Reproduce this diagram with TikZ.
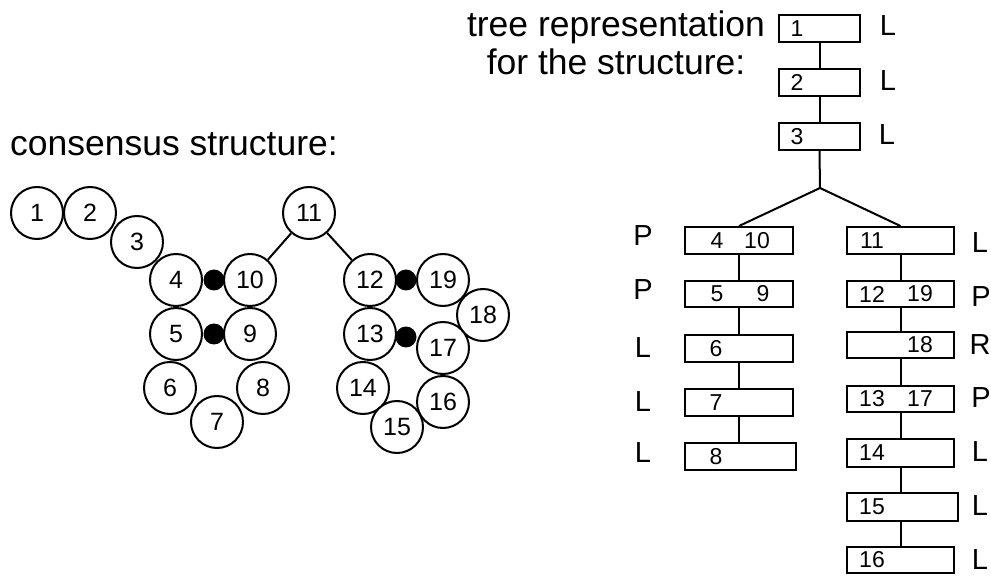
\documentclass[tikz,border=0pt]{standalone}
\usepackage{fontspec}
\setmainfont{Liberation Sans}
\begin{document}
\begin{tikzpicture}[x=1pt,y=-1pt,
  base/.style={line width=2pt},
  nt/.style={circle,draw,base,fill=white,minimum size=52pt,inner sep=0pt,font=\fontsize{25}{25}\selectfont},
  dot/.style={circle,fill=black,minimum size=21pt,inner sep=0pt},
  box/.style={rectangle,draw,base,inner sep=0pt},
  bt/.style={inner sep=0pt,font=\fontsize{23}{23}\selectfont},
  lab/.style={inner sep=0pt,font=\fontsize{29}{29}\selectfont},
  title/.style={inner sep=0pt,font=\fontsize{35.5}{38}\selectfont},
  link/.style={base}]
\useasboundingbox (0,0) rectangle (991,577);
% titles
\node[title,anchor=base west] (tc) at (10,156) {consensus structure:};
\node[title,anchor=base] (tt1) at (616,37) {tree representation};
\node[title,anchor=base] (tt2) at (616,75) {for the structure:};
% base pair dots
\node[dot] (d1) at (214,280) {};
\node[dot] (d2) at (214,334) {};
\node[dot] (d3) at (406,280) {};
\node[dot] (d4) at (406,337) {};
% nucleotides
\node[nt] (n1) at (37,213) {1};
\node[nt] (n2) at (90,213) {2};
\node[nt] (n3) at (137,242) {3};
\node[nt] (n4) at (176,280) {4};
\node[nt] (n10) at (250,280) {10};
\node[nt] (n5) at (176,334) {5};
\node[nt] (n9) at (250,334) {9};
\node[nt] (n6) at (170,388) {6};
\node[nt] (n8) at (263,388) {8};
\node[nt] (n7) at (217,422) {7};
\node[nt] (n11) at (309,213) {11};
\node[nt] (n12) at (370,280) {12};
\node[nt] (n19) at (443,280) {19};
\node[nt] (n18) at (483,315) {18};
\node[nt] (n13) at (370,334) {13};
\node[nt] (n17) at (443,348) {17};
\node[nt] (n14) at (363,388) {14};
\node[nt] (n16) at (443,402) {16};
\node[nt] (n15) at (397,427) {15};
\draw[link] (n11) -- (n10);
\draw[link] (n11) -- (n12);
% tree: top column
\node[box,minimum width=81pt,minimum height=27pt] (b1) at (819.5,28.5) {};
\node[box,minimum width=81pt,minimum height=27pt] (b2) at (819.5,82.5) {};
\node[box,minimum width=81pt,minimum height=27pt] (b3) at (819.5,136.5) {};
\coordinate (j) at (820,188);
% left column
\node[box,minimum width=108pt,minimum height=27pt] (b410) at (739,240.5) {};
\node[box,minimum width=108pt,minimum height=26pt] (b59) at (739,294) {};
\node[box,minimum width=108pt,minimum height=27pt] (b6) at (739,348.5) {};
\node[box,minimum width=108pt,minimum height=27pt] (b7) at (739,402.5) {};
\node[box,minimum width=111pt,minimum height=27pt] (b8) at (740.5,456.5) {};
% right column
\node[box,minimum width=107pt,minimum height=27pt] (b11) at (900.5,240.5) {};
\node[box,minimum width=107pt,minimum height=26pt] (b1219) at (900.5,294) {};
\node[box,minimum width=107pt,minimum height=26pt] (b18) at (900.5,345) {};
\node[box,minimum width=107pt,minimum height=26pt] (b1317) at (900.5,399) {};
\node[box,minimum width=107pt,minimum height=28pt] (b14) at (900.5,453) {};
\node[box,minimum width=111pt,minimum height=28pt] (b15) at (902.5,507) {};
\node[box,minimum width=107pt,minimum height=26pt] (b16) at (900.5,560) {};
% connectors
\draw[link] (b1) -- (b2);
\draw[link] (b2) -- (b3);
\draw[link] (b3.south) -- (j);
\draw[link] (j) -- (b410.north);
\draw[link] (j) -- (b11.north);
\draw[link] (b410) -- (b59);
\draw[link] (b59) -- (b6);
\draw[link] (b6) -- (b7);
\draw[link] (b7.south) -- (b7.south |- b8.north);
\draw[link] (b11) -- (b1219);
\draw[link] (b1219) -- (b18);
\draw[link] (b18) -- (b1317);
\draw[link] (b1317) -- (b14);
\draw[link] (b14.south) -- (b14.south |- b15.north);
\draw[link] (b15.south -| b16.north) -- (b16.north);
% box texts
\node[bt] (t1) at (797,28.5) {1};
\node[bt] (t2) at (797,82.5) {2};
\node[bt] (t3) at (797,136.5) {3};
\node[bt] (t4) at (717,240.5) {4};
\node[bt] (t10) at (757,240.5) {10};
\node[bt] (t5) at (717,294) {5};
\node[bt] (t9) at (763,294) {9};
\node[bt] (t6) at (716,348.5) {6};
\node[bt] (t7) at (716,402.5) {7};
\node[bt] (t8) at (716,456.5) {8};
\node[bt] (t11) at (872,240.5) {11};
\node[bt] (t12) at (872,294) {12};
\node[bt] (t19) at (920,294) {19};
\node[bt] (t18) at (920,345) {18};
\node[bt] (t13) at (872,399) {13};
\node[bt] (t17) at (920,399) {17};
\node[bt] (t14) at (872,453) {14};
\node[bt] (t15) at (872,507) {15};
\node[bt] (t16) at (872,560) {16};
% type labels
\node[lab] (l1) at (888,26) {L};
\node[lab] (l2) at (888,81) {L};
\node[lab] (l3) at (887,135) {L};
\node[lab] (l410) at (643,236) {P};
\node[lab] (l59) at (643,290) {P};
\node[lab] (l6) at (643,348) {L};
\node[lab] (l7) at (643,402) {L};
\node[lab] (l8) at (643,453) {L};
\node[lab] (l11) at (980,243) {L};
\node[lab] (l1219) at (981,297) {P};
\node[lab] (l18) at (980,345) {R};
\node[lab] (l1317) at (981,398) {P};
\node[lab] (l14) at (980,452) {L};
\node[lab] (l15) at (980,506) {L};
\node[lab] (l16) at (980,560) {L};
\end{tikzpicture}
\end{document}
